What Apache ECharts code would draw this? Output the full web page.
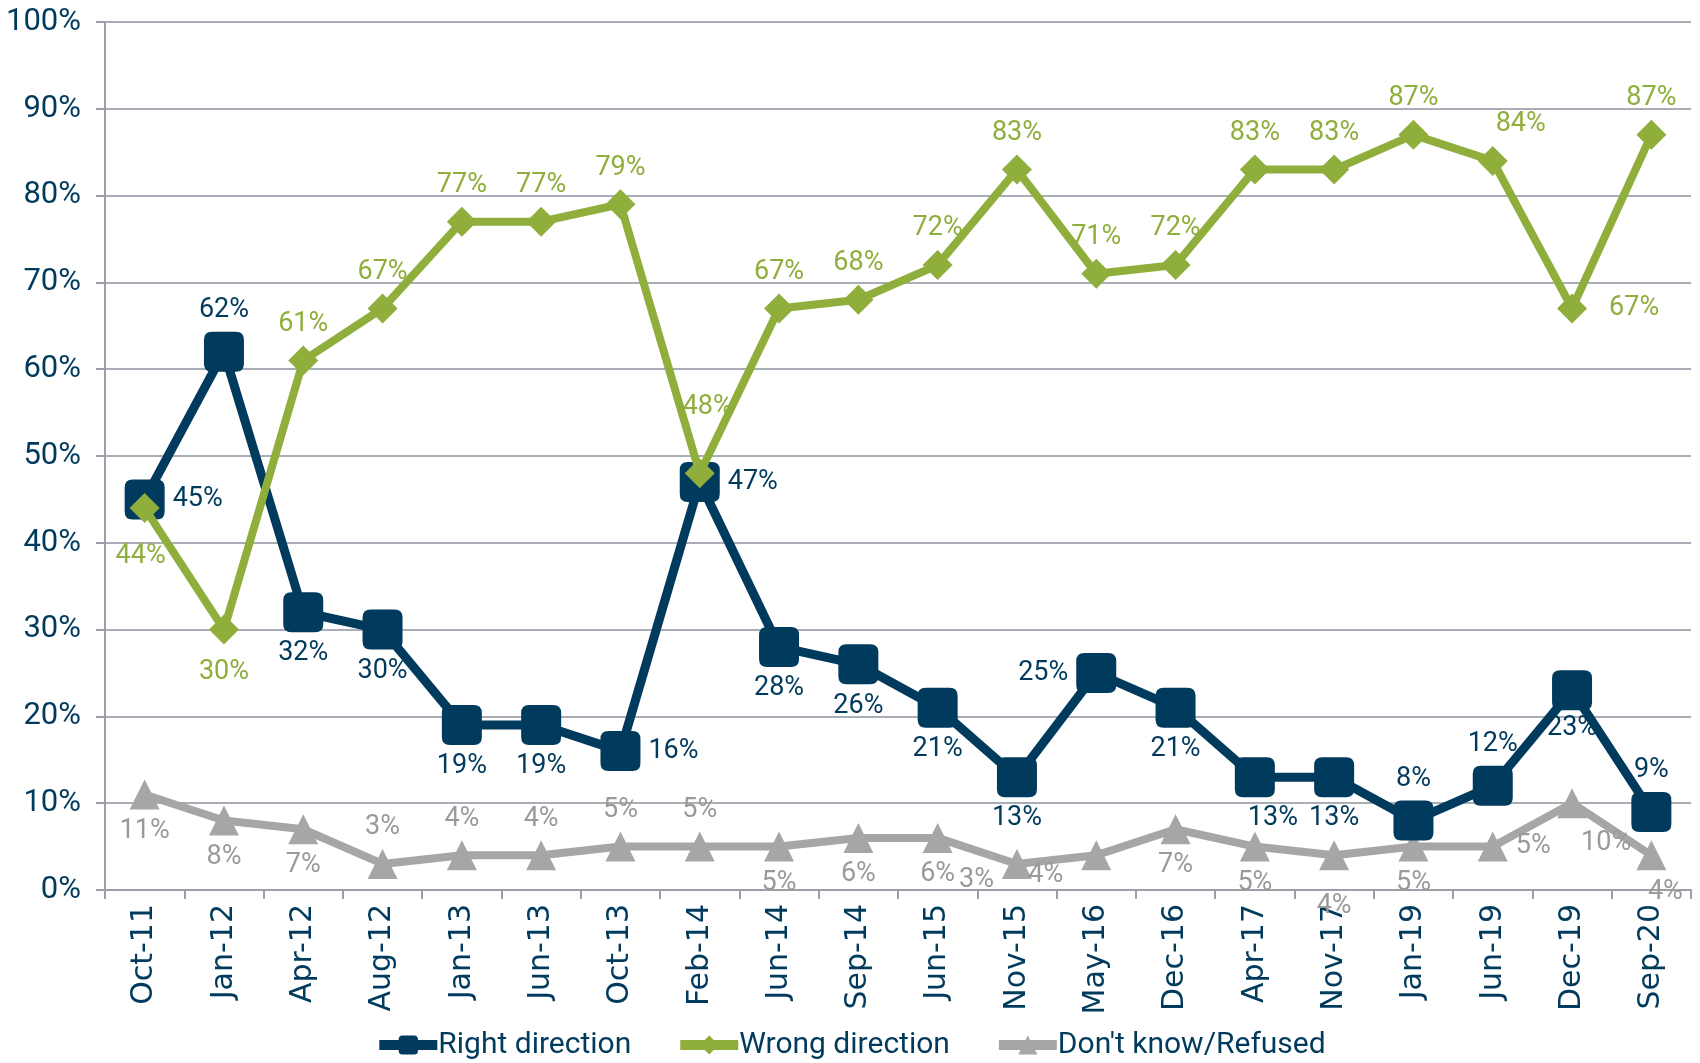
<!DOCTYPE html>
<html>
<head>
<meta charset="utf-8">
<script src="https://cdn.jsdelivr.net/npm/echarts@6/dist/echarts.min.js"></script>
<style>
  html, body { margin: 0; padding: 0; background: #fff; }
  #chart { width: 1700px; height: 1063px; }
</style>
</head>
<body>
<div id="chart"></div>
<script>
const categories = ['Oct-11', 'Jan-12', 'Apr-12', 'Aug-12', 'Jan-13', 'Jun-13', 'Oct-13', 'Feb-14', 'Jun-14', 'Sep-14',
  'Jun-15', 'Nov-15', 'May-16', 'Dec-16', 'Apr-17', 'Nov-17', 'Jan-19', 'Jun-19', 'Dec-19', 'Sep-20']
const rightDirection = [45, 62, 32, 30, 19, 19, 16, 47, 28, 26, 21, 13, 25, 21, 13, 13, 8, 12, 23, 9]
const wrongDirection = [44, 30, 61, 67, 77, 77, 79, 48, 67, 68, 72, 83, 71, 72, 83, 83, 87, 84, 67, 87]
const dontKnow = [11, 8, 7, 3, 4, 4, 5, 5, 5, 6, 6, 3, 4, 7, 5, 4, 5, 5, 10, 4]
const yTicks = [0, 10, 20, 30, 40, 50, 60, 70, 80, 90, 100]

// label placement per point: [position, dx, dy]
const rightPos = [['right', 0, 0], ['top', 0, 0], ['bottom', 0, 0], ['bottom', 0, 0], ['bottom', 0, 0], ['bottom', 0, 0],
  ['right', 0, 0], ['right', 0, 0], ['bottom', 0, 0], ['bottom', 0, 0], ['bottom', 0, 0], ['bottom', 0, 0],
  ['left', 0, 0], ['bottom', 0, 0], ['bottom', 18, 0], ['bottom', 0, 0], ['top', 0, 0], ['top', 0, 0],
  ['bottom', 0, -4], ['top', 0, 0]]
const wrongPos = [['bottom', -4, 12], ['bottom', 0, 6], ['top', 0, 0], ['top', 0, 0], ['top', 0, 0], ['top', 0, 0],
  ['top', 0, 0], ['top', 8, -30], ['top', 0, 0], ['top', 0, 0], ['top', 0, 0], ['top', 0, 0],
  ['top', 0, 0], ['top', 0, 0], ['top', 0, 0], ['top', 0, 0], ['top', 0, 0], ['top', 28, 0],
  ['right', 14, 0], ['top', 0, 0]]
const dkPos = [['bottom', 0, 0], ['bottom', 0, 0], ['bottom', 0, 0], ['top', 0, 0], ['top', 0, 0], ['top', 0, 0],
  ['top', 0, 0], ['top', 0, 0], ['bottom', 0, 0], ['bottom', 0, 0], ['bottom', 0, 0], ['left', 0, 16],
  ['left', -10, 20], ['bottom', 0, 0], ['bottom', 0, 0], ['bottom', 0, 14], ['bottom', 0, 0], ['right', 0, 0],
  ['right', -14, 40], ['bottom', 14, 0]]

const NAVY = '#003a5c'
const GREEN = '#8fae3c'
const GRAY = '#a6a6a6'
const LABEL_FONT = 'Roboto, sans-serif'

function withLabels(values, pos) {
  return values.map((v, i) => ({
    value: v,
    label: { position: pos[i][0], offset: [pos[i][1], pos[i][2]] }
  }))
}

function makeSeries(name, values, pos, color, symbol, size, width, labelColor, z) {
  return {
    name: name,
    type: 'line',
    data: withLabels(values, pos),
    symbol: symbol,
    symbolSize: size,
    showAllSymbol: true,
    z: z,
    lineStyle: { color: color, width: width },
    itemStyle: { color: color, borderWidth: 0 },
    label: {
      show: true,
      color: labelColor,
      fontFamily: LABEL_FONT,
      fontSize: 27,
      distance: 8,
      formatter: p => p.value + '%'
    },
    animation: false
  }
}

const chart = echarts.init(document.getElementById('chart'))
chart.setOption({
  backgroundColor: '#fff',
  grid: { left: 105, right: 9, top: 22, bottom: 173, containLabel: false },
  legend: {
    bottom: -2,
    left: 'center',
    itemGap: 44,
    itemWidth: 58,
    itemHeight: 24,
    lineStyle: { width: 10 },
    textStyle: { color: NAVY, fontFamily: LABEL_FONT, fontSize: 30, padding: [0, 0, 0, -4] },
    data: ['Right direction', 'Wrong direction', "Don't know/Refused"]
  },
  xAxis: {
    type: 'category',
    data: categories,
    boundaryGap: true,
    axisLine: { lineStyle: { color: '#9a9fa8', width: 2 } },
    axisTick: { show: true, length: 9, lineStyle: { color: '#9a9fa8', width: 2 } },
    axisLabel: {
      rotate: 90,
      color: NAVY,
      fontFamily: '"DejaVu Sans", Verdana, sans-serif',
      fontSize: 30,
      margin: 14,
      interval: 0
    }
  },
  yAxis: {
    type: 'value',
    min: yTicks[0],
    max: yTicks[yTicks.length - 1],
    interval: 10,
    axisLine: { show: true, lineStyle: { color: '#9a9fa8', width: 2 } },
    axisTick: { show: true, length: 9, lineStyle: { color: '#9a9fa8', width: 2 } },
    splitLine: { lineStyle: { color: '#a9adb5', width: 2 } },
    axisLabel: {
      color: NAVY,
      fontFamily: LABEL_FONT,
      fontSize: 31,
      margin: 24,
      formatter: v => v + '%'
    }
  },
  series: [
    makeSeries("Don't know/Refused", dontKnow, dkPos, GRAY, 'triangle', 30, 8, '#9a9a9a', 2),
    makeSeries('Right direction', rightDirection, rightPos, NAVY, 'path://M2,0 H8 Q10,0 10,2 V8 Q10,10 8,10 H2 Q0,10 0,8 V2 Q0,0 2,0 Z', 40, 9, NAVY, 3),
    makeSeries('Wrong direction', wrongDirection, wrongPos, GREEN, 'diamond', 30, 8, GREEN, 4)
  ]
})
</script>
</body>
</html>
